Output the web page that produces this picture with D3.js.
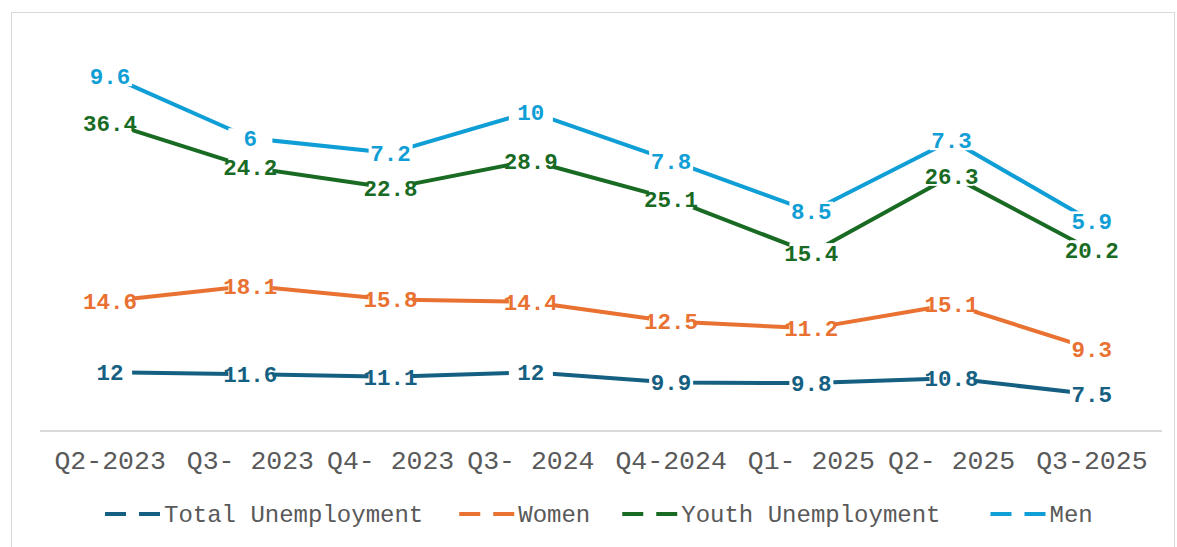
<!DOCTYPE html>
<html>
<head>
<meta charset="utf-8">
<script src="https://cdn.jsdelivr.net/npm/d3@7/dist/d3.min.js"></script>
<style>
  html, body { margin: 0; padding: 0; background: #fff; }
  svg { display: block; }
</style>
</head>
<body>
<svg id="chart" width="1177" height="547"></svg>
<script>
// Quarters on the x axis
const quarters = ["Q2-2023", "Q3- 2023", "Q4- 2023", "Q3- 2024", "Q4-2024", "Q1- 2025", "Q2- 2025", "Q3-2025"];

// Unemployment rates (%) per series, stacked in this order
const totalUnemployment = [12, 11.6, 11.1, 12, 9.9, 9.8, 10.8, 7.5];
const women = [14.6, 18.1, 15.8, 14.4, 12.5, 11.2, 15.1, 9.3];
const youthUnemployment = [36.4, 24.2, 22.8, 28.9, 25.1, 15.4, 26.3, 20.2];
const men = [9.6, 6, 7.2, 10, 7.8, 8.5, 7.3, 5.9];

const seriesNames = ["Total Unemployment", "Women", "Youth Unemployment", "Men"];
const seriesColors = ["#156082", "#E97132", "#196B24", "#0F9ED5"];
const yDomain = [0, 80];

const seriesValues = [totalUnemployment, women, youthUnemployment, men];
const rows = quarters.map((q, i) => {
  const r = { quarter: q };
  seriesNames.forEach((n, k) => { r[n] = seriesValues[k][i]; });
  return r;
});

const svg = d3.select("#chart");
const plot = { left: 40, right: 1162, top: 40, bottom: 431 };

// chart frame
svg.append("rect")
  .attr("x", 11.5).attr("y", 12.5)
  .attr("width", 1163).attr("height", 560)
  .attr("fill", "none").attr("stroke", "#d9d9d9").attr("stroke-width", 1);

const x = d3.scaleBand().domain(quarters).range([plot.left, plot.right]);
const y = d3.scaleLinear().domain(yDomain).range([plot.bottom, plot.top]);

const stacked = d3.stack().keys(seriesNames)(rows);

// category axis
const xAxis = svg.append("g")
  .attr("transform", `translate(0,${plot.bottom})`)
  .call(d3.axisBottom(x).tickSize(0).tickPadding(0));
xAxis.select(".domain").attr("stroke", "#d9d9d9").attr("stroke-width", 2)
  .attr("d", `M${plot.left},0H${plot.right}`);
xAxis.selectAll(".tick text")
  .attr("y", 29)
  .attr("dy", "0.35em")
  .attr("fill", "#595959")
  .style("font-family", "'Liberation Mono', 'Courier New', monospace")
  .style("font-size", "26.5px");

const cx = d => x(d.data.quarter) + x.bandwidth() / 2;

const line = d3.line()
  .x(cx)
  .y(d => y(d[1]));

// stacked series lines
svg.append("g").selectAll("path")
  .data(stacked)
  .join("path")
  .attr("d", line)
  .attr("fill", "none")
  .attr("stroke", (s, i) => seriesColors[i])
  .attr("stroke-width", 4)
  .attr("stroke-linejoin", "round");

// value labels centred on each point, over a white box
const labels = svg.append("g");
stacked.forEach((s, i) => {
  const g = labels.append("g");
  g.selectAll("rect")
    .data(s)
    .join("rect")
    .attr("x", d => cx(d) - 22)
    .attr("y", d => y(d[1]) - 10)
    .attr("width", 44)
    .attr("height", 20)
    .attr("fill", "#fff");
  g.selectAll("text")
    .data(s)
    .join("text")
    .attr("x", cx)
    .attr("y", d => y(d[1]))
    .attr("dy", "0.35em")
    .attr("text-anchor", "middle")
    .attr("fill", seriesColors[i])
    .style("font-family", "'Liberation Mono', 'Courier New', monospace")
    .style("font-weight", "bold")
    .style("font-size", "22.5px")
    .text(d => d.data[s.key]);
});

// legend
const legend = svg.append("g").attr("transform", "translate(0,514)");
const legendFont = "24px 'Liberation Mono', 'Courier New', monospace";
const ctx = document.createElement("canvas").getContext("2d");
ctx.font = legendFont;
const keyW = 59;
const gaps = [36, 32, 50];
let lx = 105;
seriesNames.forEach((n, i) => {
  const item = legend.append("g").attr("transform", `translate(${lx},0)`);
  item.append("line")
    .attr("x1", 0).attr("x2", 55).attr("y1", 0).attr("y2", 0)
    .attr("stroke", seriesColors[i]).attr("stroke-width", 4)
    .attr("stroke-dasharray", "21 13");
  item.append("text")
    .attr("x", keyW).attr("y", 0).attr("dy", "0.35em")
    .attr("fill", "#595959")
    .style("font", legendFont)
    .text(n);
  lx += keyW + ctx.measureText(n).width + (gaps[i] || 0);
});
</script>
</body>
</html>
